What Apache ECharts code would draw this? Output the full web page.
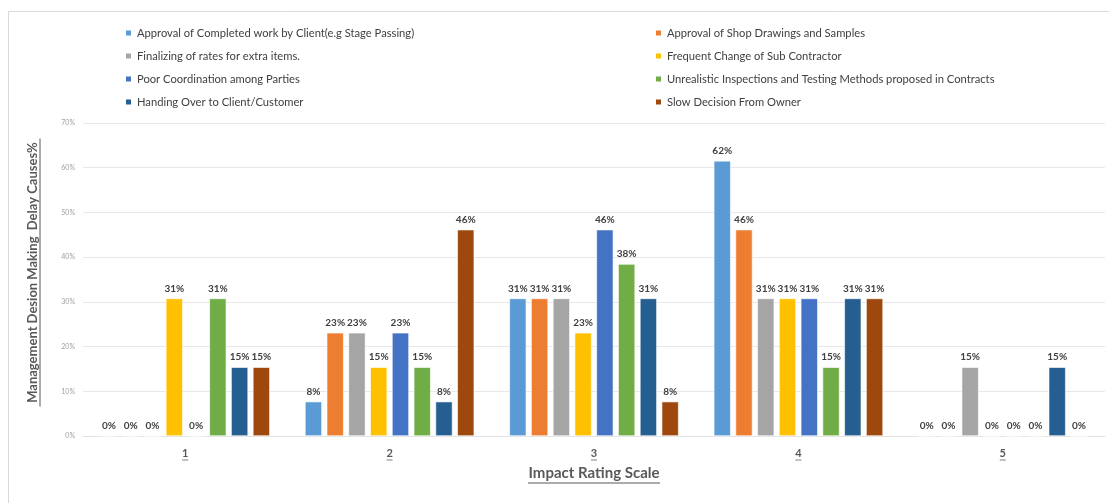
<!DOCTYPE html>
<html>
<head>
<meta charset="utf-8">
<script src="https://cdn.jsdelivr.net/npm/echarts@6/dist/echarts.min.js"></script>
<style>
    html, body { margin: 0; padding: 0; background: #fff; }
    #main { width: 1109px; height: 503px; }
</style>
</head>
<body>
<div id="main"></div>
<script>
var categories = ['1', '2', '3', '4', '5'];
var seriesNames = [
    'Approval of Completed work by Client(e.g Stage Passing)',
    'Approval of Shop Drawings and Samples',
    'Finalizing of rates for extra items.',
    'Frequent Change of Sub Contractor',
    'Poor Coordination among Parties',
    'Unrealistic Inspections and Testing Methods proposed in Contracts',
    'Handing Over to Client/Customer',
    'Slow Decision From Owner'
];
// percentages per rating scale 1..5
var completedWork = [0, 7.69, 30.77, 61.54, 0];
var shopDrawings = [0, 23.08, 30.77, 46.15, 0];
var extraRates = [0, 23.08, 30.77, 30.77, 15.38];
var subContractor = [30.77, 15.38, 23.08, 30.77, 0];
var coordination = [0, 23.08, 46.15, 30.77, 0];
var inspections = [30.77, 15.38, 38.46, 15.38, 0];
var handingOver = [15.38, 7.69, 30.77, 30.77, 15.38];
var slowDecision = [15.38, 46.15, 7.69, 30.77, 0];
var yTicks = [0, 10, 20, 30, 40, 50, 60, 70];

var values = [completedWork, shopDrawings, extraRates, subContractor,
    coordination, inspections, handingOver, slowDecision];
var colors = ['#5B9BD5', '#ED7D31', '#A5A5A5', '#FFC000',
    '#4472C4', '#70AD47', '#255E91', '#9E480E'];

var font = 'Lato, "Noto Sans", sans-serif';

var series = [];
for (var i = 0; i < values.length; i++) {
    series.push({
        name: seriesNames[i],
        type: 'bar',
        data: values[i],
        barWidth: 17,
        barGap: '28%',
        itemStyle: {color: colors[i], borderColor: '#fff', borderWidth: 0.6},
        label: {
            show: true,
            position: 'top',
            distance: 5,
            color: '#404040',
            fontFamily: font,
            fontWeight: 'bold',
            fontSize: 10,
            formatter: function (p) {
                return Math.round(p.value) + '%';
            }
        }
    });
}

var myChart = echarts.init(document.getElementById('main'));
var option = {
    animation: false,
    color: colors,
    textStyle: {fontFamily: font},
    graphic: [{
        type: 'rect',
        shape: {x: 8.5, y: 11.5, width: 1200, height: 600},
        style: {fill: 'none', stroke: '#d9d9d9', lineWidth: 1},
        silent: true
    }],
    legend: [{
        orient: 'vertical',
        left: 119,
        top: 21,
        itemWidth: 7,
        itemHeight: 7,
        itemGap: 9,
        icon: 'rect',
        textStyle: {fontSize: 11.2, color: '#404040', fontFamily: font, lineHeight: 14},
        data: [seriesNames[0], seriesNames[2], seriesNames[4], seriesNames[6]]
    }, {
        orient: 'vertical',
        left: 649,
        top: 21,
        itemWidth: 7,
        itemHeight: 7,
        itemGap: 9,
        icon: 'rect',
        textStyle: {fontSize: 11.2, color: '#404040', fontFamily: font, lineHeight: 14},
        data: [seriesNames[1], seriesNames[3], seriesNames[5], seriesNames[7]]
    }],
    grid: {left: 83, right: 4, top: 123, bottom: 67, containLabel: false},
    xAxis: {
        type: 'category',
        data: categories,
        axisTick: {show: false},
        axisLine: {lineStyle: {color: '#e3e3e3'}},
        axisLabel: {
            margin: 11,
            formatter: function (v) {
                return '{t|' + v + '}\n{u| }';
            },
            rich: {
                t: {fontSize: 11, fontWeight: 'bold', color: '#595959', fontFamily: font, lineHeight: 12},
                u: {width: 6, height: 1, lineHeight: 2, backgroundColor: '#7f7f7f'}
            }
        },
        name: '{t|Impact Rating Scale}\n{u| }',
        nameLocation: 'middle',
        nameGap: 29,
        nameMoveOverlap: false,
        nameTextStyle: {
            rich: {
                t: {fontSize: 15, fontWeight: 'bold', color: '#595959', fontFamily: font, lineHeight: 17},
                u: {width: 132, height: 1, lineHeight: 2, backgroundColor: '#595959'}
            }
        }
    },
    yAxis: {
        type: 'value',
        min: yTicks[0],
        max: yTicks[yTicks.length - 1],
        interval: yTicks[1] - yTicks[0],
        axisLine: {show: false},
        axisTick: {show: false},
        axisLabel: {
            formatter: '{value}%',
            fontSize: 7,
            color: '#a0a0a0',
            margin: 8,
            fontFamily: font
        },
        splitLine: {lineStyle: {color: '#e8e8e8'}},
        name: '{t|Management Desion Making  Delay Causes%}\n{u| }',
        nameLocation: 'middle',
        nameGap: 42,
        nameRotate: 90,
        nameMoveOverlap: false,
        nameTextStyle: {
            padding: [0, 0, 0, 14],
            rich: {
                t: {fontSize: 13, fontWeight: 'bold', color: '#595959', fontFamily: font, lineHeight: 13},
                u: {width: 268, height: 1, lineHeight: 2, backgroundColor: '#595959'}
            }
        }
    },
    series: series
};
myChart.setOption(option);
</script>
</body>
</html>
